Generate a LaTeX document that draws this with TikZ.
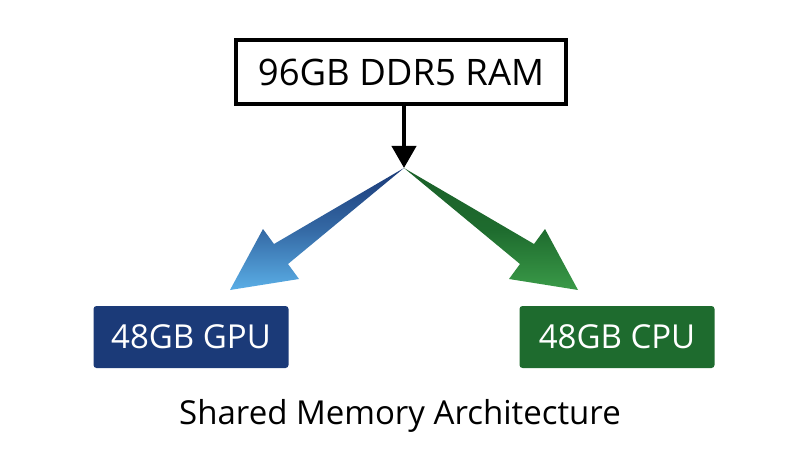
\documentclass[tikz,border=0pt]{standalone}
\usepackage{fontspec}
\setmainfont{Open Sans}
\usetikzlibrary{arrows.meta}
\begin{document}
\begin{tikzpicture}[x=1pt,y=-1pt,
 box/.style={draw=black,line width=3.5pt,fill=white,minimum width=330pt,minimum height=64pt,font=\fontsize{36.5}{42}\selectfont},
 mem/.style={rounded corners=3pt,text=white,minimum width=195pt,minimum height=62pt,font=\fontsize{33}{38}\selectfont}]
\definecolor{navy}{HTML}{1B3A78}
\definecolor{lblue}{HTML}{5AAEE6}
\definecolor{dgreen}{HTML}{1E6B2E}
\definecolor{lgreen}{HTML}{3A9A48}
\useasboundingbox (0,0) rectangle (800,457);
\node[box] (ram) at (401,72) {96GB DDR5 RAM};
\coordinate (split) at (404,168);
\draw[line width=4pt,-{Triangle[length=22pt,width=24pt]}] (ram.south -| split) -- (split);
\shade[top color=navy,bottom color=lblue,middle color=navy!60!lblue] (split) -- (274,244) -- (263,229) -- (230,290) -- (299,279) -- (288,264) -- cycle;
\shade[top color=dgreen!90!black,bottom color=lgreen,middle color=dgreen] (split) -- (534,244) -- (545,229) -- (578,290) -- (509,279) -- (520,264) -- cycle;
\node[mem,fill=navy] (gpu) at (191,337) {48GB GPU};
\node[mem,fill=dgreen] (cpu) at (617,337) {48GB CPU};
\node[font=\fontsize{33}{38}\selectfont] (cap) at (400,416) {Shared Memory Architecture};
\end{tikzpicture}
\end{document}
